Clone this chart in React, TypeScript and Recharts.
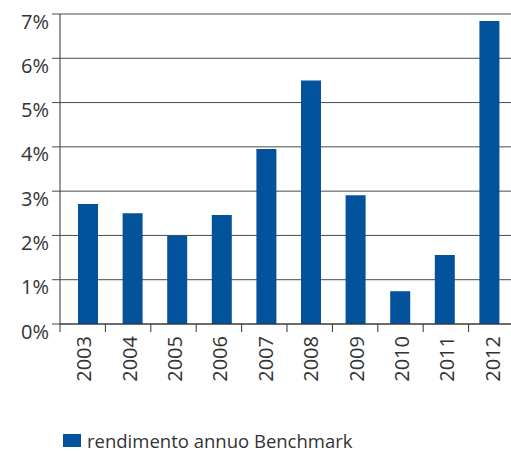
import React from "react";
import { BarChart, Bar, XAxis, YAxis, CartesianGrid, Legend } from "recharts";

const years = ["2003", "2004", "2005", "2006", "2007", "2008", "2009", "2010", "2011", "2012"];
const rendimento = [2.71, 2.5, 1.99, 2.46, 3.95, 5.5, 2.91, 0.74, 1.56, 6.84];
const yTicks = [0, 1, 2, 3, 4, 5, 6, 7];

const data = years.map((year, i) => ({ year, rendimento: rendimento[i] }));

const FONT = "'Open Sans', 'Noto Sans', sans-serif";
const BLUE = "#02529c";
const CHART_W = 514;
const HALF_BAND = (CHART_W - 60) / years.length / 2;

const YTick = (props: any) => {
  const { x, y, payload } = props;
  return (
    <text x={x - 1} y={y + 7} textAnchor="end" dominantBaseline="central" fontSize={20} fill="#333" fontFamily={FONT}>
      {`${payload.value}%`}
    </text>
  );
};

const XTick = (props: any) => {
  const { x, y, payload } = props;
  const tx = x + 1;
  const ty = y + 4;
  return (
    <g>
      <line x1={x - HALF_BAND} y1={324} x2={x - HALF_BAND} y2={332} stroke="#333" />
      <text
        x={tx}
        y={ty}
        transform={`rotate(-90, ${tx}, ${ty})`}
        textAnchor="end"
        dominantBaseline="central"
        fontSize={20}
        fill="#333"
        fontFamily={FONT}
      >
        {payload.value}
      </text>
    </g>
  );
};

const LegendContent = () => (
  <div
    style={{
      display: "flex",
      alignItems: "center",
      paddingLeft: 63,
      paddingTop: 6,
      fontFamily: FONT,
      fontSize: 18.5,
      color: "#333",
    }}
  >
    <span style={{ width: 18, height: 13, background: BLUE, marginRight: 6, display: "inline-block" }} />
    rendimento annuo Benchmark
  </div>
);

export default function App() {
  return (
    <div style={{ position: "absolute", left: 0, top: 0, width: 511, height: 452, overflow: "hidden", background: "#fff" }}>
      <BarChart width={CHART_W} height={452} data={data} margin={{ top: 14, right: 0, left: 0, bottom: 0 }} barCategoryGap={0}>
        <CartesianGrid horizontal vertical={false} stroke="#4a4a4a" />
        <XAxis
          dataKey="year"
          height={98}
          tickLine={false}
          axisLine={{ stroke: "#333" }}
          tick={<XTick />}
          interval={0}
        />
        <XAxis xAxisId="bars" dataKey="year" hide padding={{ left: 6, right: 2 }} />
        <YAxis
          width={60}
          domain={[0, 7]}
          ticks={yTicks}
          tickSize={8}
          tickLine={{ stroke: "#4a4a4a" }}
          axisLine={{ stroke: "#333" }}
          tick={<YTick />}
          interval={0}
        />
        <Legend verticalAlign="bottom" height={30} content={<LegendContent />} />
        <Bar xAxisId="bars" dataKey="rendimento" fill={BLUE} barSize={20} isAnimationActive={false} />
      </BarChart>
    </div>
  );
}
